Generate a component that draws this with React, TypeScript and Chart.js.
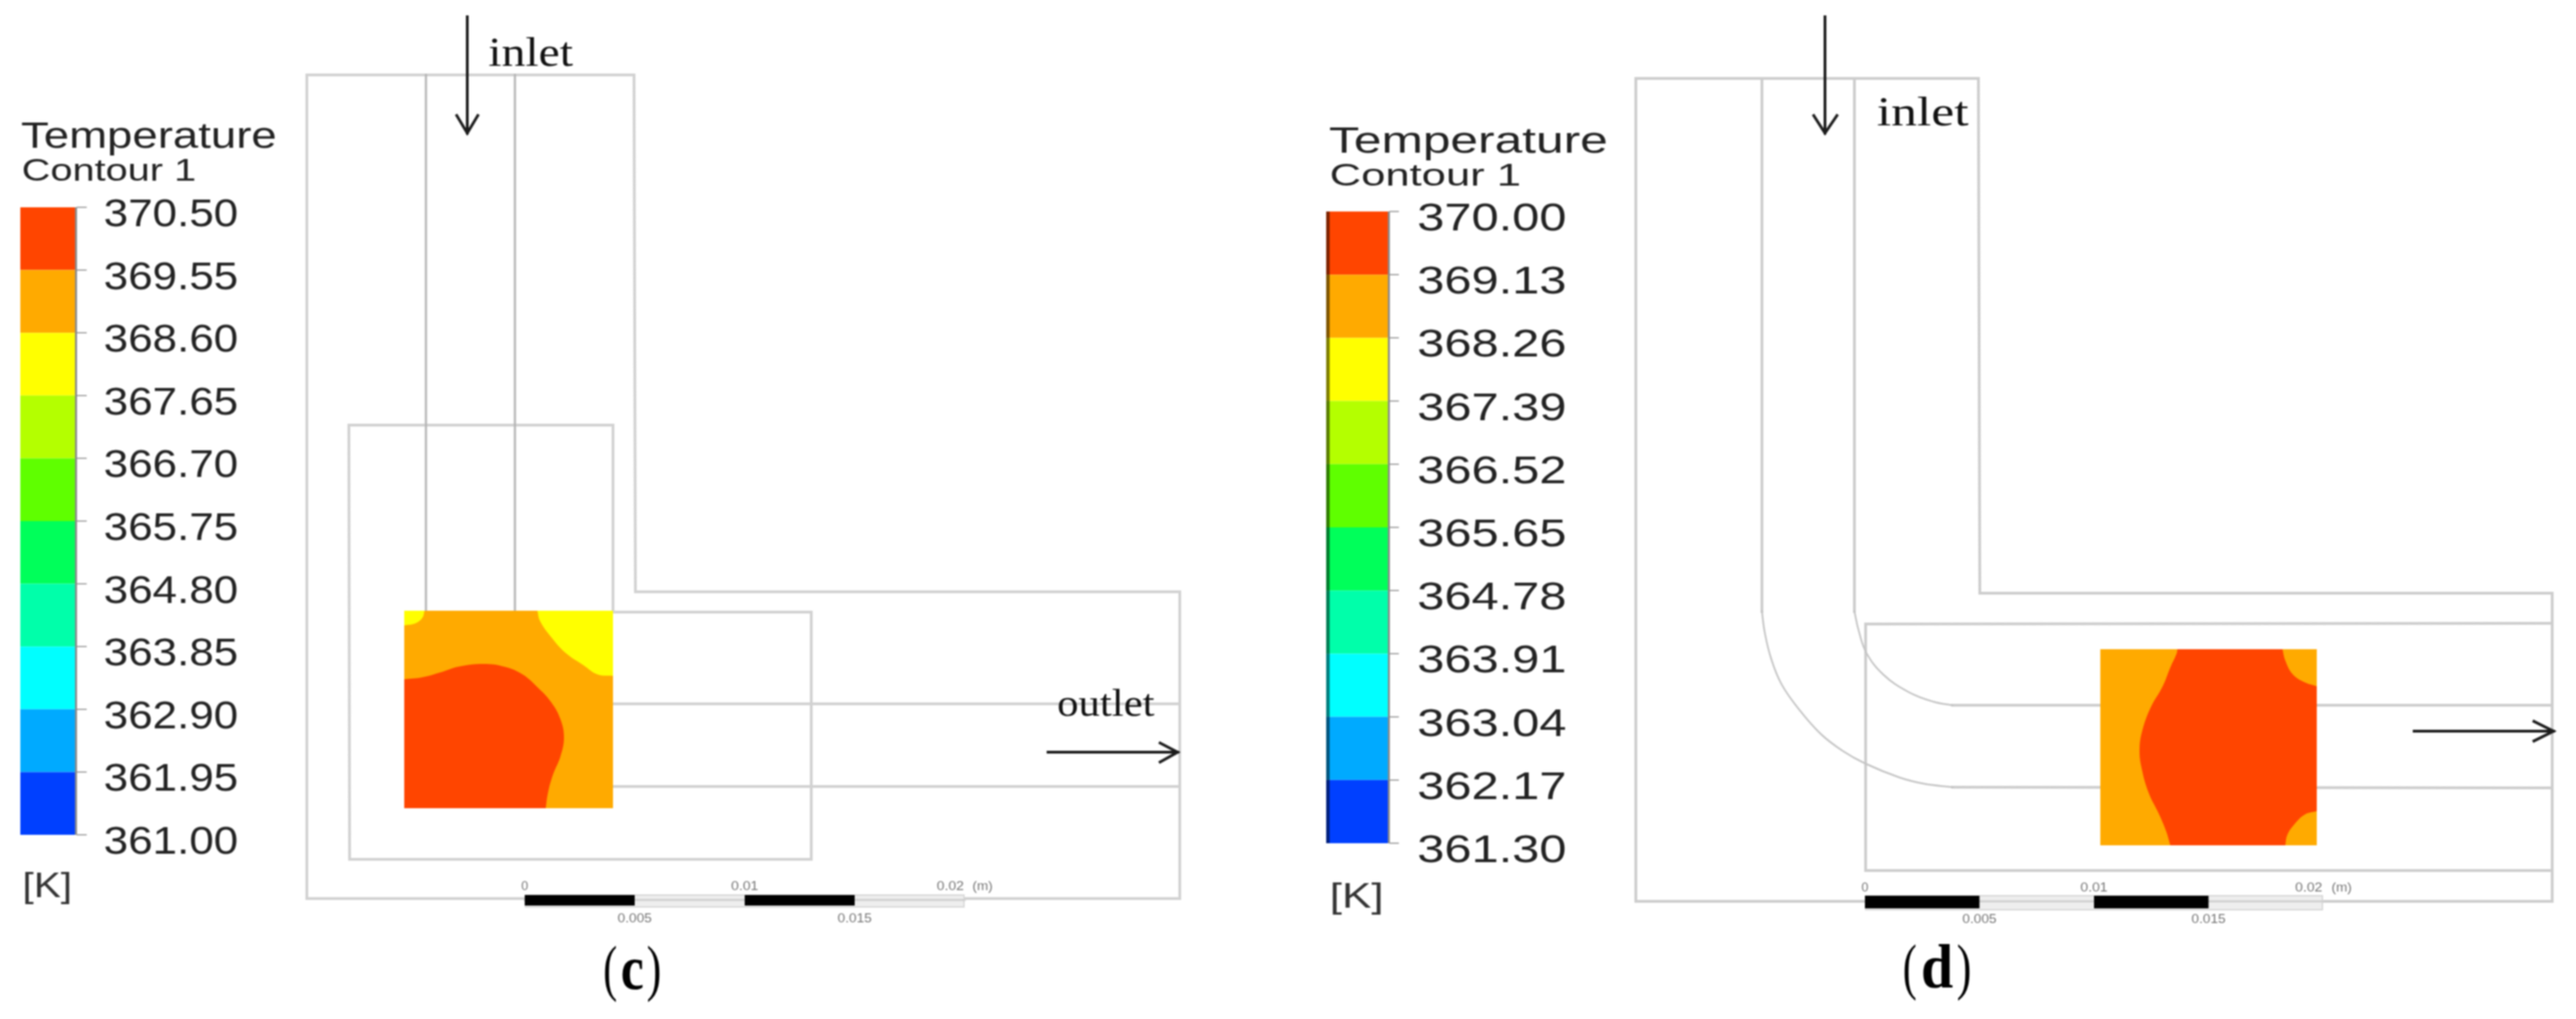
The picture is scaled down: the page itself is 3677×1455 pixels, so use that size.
import React, { useEffect, useRef } from "react";
import { Chart, registerables } from "chart.js";

Chart.register(...registerables);

type P = [number, number];

// ---------- colour-bar readings ----------
const levelsC = ["370.50", "369.55", "368.60", "367.65", "366.70", "365.75", "364.80", "363.85", "362.90", "361.95", "361.00"];
const levelsD = ["370.00", "369.13", "368.26", "367.39", "366.52", "365.65", "364.78", "363.91", "363.04", "362.17", "361.30"];
const bandColors = ["#ff4500", "#ffaa00", "#ffff00", "#b4ff00", "#5fff00", "#00ff5a", "#00ffaa", "#00ffff", "#00aaff", "#0040ff"];
const scaleTicks = [0, 0.005, 0.01, 0.015, 0.02];

// ---------- outlines (panel c) ----------
const wallsC: P[][] = [
  [[438, 107], [905, 107], [907, 845], [1684, 845], [1684, 1283], [438, 1283], [438, 107]],
  [[875, 872], [875, 607], [498, 607], [499, 1227], [1158, 1227], [1158, 874], [875, 874]],
  [[875, 1005], [1684, 1005]],
  [[875, 1123], [1684, 1123]],
];
const pipesC: P[][] = [
  [[608, 107], [608, 872]],
  [[735, 107], [735, 872]],
];
const boxC: P[] = [[577, 872], [875, 872], [875, 1154], [577, 1154], [577, 872]];
// A repeated point keeps a corner sharp when the outline is drawn smooth.
const yellowC1: P[] = [[767, 872], [767, 872], [771, 887], [787, 910], [807, 932], [833, 950], [853, 963], [875, 965], [875, 965], [875, 872], [875, 872], [767, 872], [767, 872]];
const yellowC2: P[] = [[577, 872], [577, 872], [606, 872], [606, 872], [603, 882], [593, 890], [577, 893], [577, 893], [577, 872], [577, 872]];
const redC: P[] = [[577, 970], [577, 970], [603, 967], [629, 960], [654, 952], [690, 948], [720, 952], [746, 963], [769, 983], [787, 1003], [800, 1027], [805, 1053], [800, 1080], [789, 1107], [782, 1133], [779, 1154], [779, 1154], [577, 1154], [577, 1154], [577, 970], [577, 970]];

// ---------- outlines (panel d) ----------
const wallsD: P[][] = [
  [[2335, 112], [2824, 112], [2826, 847], [3643, 847], [3643, 1287], [2335, 1287], [2335, 112]],
  [[3643, 890], [2663, 891], [2663, 1243], [3643, 1243]],
  [[2515, 112], [2515, 873]],
  [[2647, 112], [2647, 873]],
  [[2787, 1007], [3643, 1007]],
  [[2787, 1124], [3643, 1125]],
];
const arcOuterD: P[] = [[2515, 873], [2519, 903], [2528, 940], [2543, 977], [2568, 1013], [2599, 1048], [2630, 1072], [2662, 1090], [2711, 1110], [2746, 1119], [2787, 1124]];
const arcInnerD: P[] = [[2647, 873], [2653, 900], [2664, 932], [2688, 963], [2724, 988], [2760, 1002], [2787, 1007]];
const boxD: P[] = [[2998, 927], [3307, 927], [3307, 1207], [2998, 1207], [2998, 927]];
const redD: P[] = [[3108, 927], [3108, 927], [3258, 927], [3258, 927], [3262, 943], [3272, 962], [3287, 973], [3307, 980], [3307, 980], [3307, 1158], [3307, 1158], [3290, 1163], [3275, 1177], [3265, 1192], [3262, 1207], [3262, 1207], [3098, 1207], [3098, 1207], [3092, 1187], [3082, 1163], [3067, 1132], [3057, 1097], [3054, 1070], [3058, 1043], [3070, 1010], [3087, 980], [3098, 953], [3107, 933], [3108, 927], [3108, 927]];

// ---------- arrows: shaft, then barb-tip-barb ----------
const arrows: P[][] = [
  [[667, 24], [667, 190]],
  [[652, 165], [667, 190], [682, 165]],
  [[1496, 1074], [1681, 1074]],
  [[1656, 1061], [1681, 1074], [1656, 1088]],
  [[2605, 24], [2605, 190]],
  [[2589, 165], [2605, 190], [2622, 165]],
  [[3446, 1044], [3645, 1044]],
  [[3617, 1030], [3645, 1044], [3617, 1058]],
];

// ---------- text ----------
type T = { s: string; x0: number; x1: number; y: number; size: number; font: string; bold?: boolean; color: string };
const SANS = '"Liberation Sans", Arial, sans-serif';
const SERIF = '"Liberation Serif", "Times New Roman", serif';
const texts: T[] = [
  { s: "inlet", x0: 697, x1: 818, y: 94, size: 60, font: SERIF, color: "#111" },
  { s: "outlet", x0: 1509, x1: 1648, y: 1022, size: 55, font: SERIF, color: "#111" },
  { s: "inlet", x0: 2679, x1: 2810, y: 179, size: 60, font: SERIF, color: "#111" },
  { s: "Temperature", x0: 30, x1: 395, y: 211, size: 51, font: SANS, color: "#222" },
  { s: "Contour 1", x0: 31, x1: 280, y: 258, size: 45, font: SANS, color: "#222" },
  { s: "[K]", x0: 32, x1: 103, y: 1281, size: 50, font: SANS, color: "#333" },
  { s: "Temperature", x0: 1897, x1: 2295, y: 218, size: 51, font: SANS, color: "#222" },
  { s: "Contour 1", x0: 1898, x1: 2171, y: 265, size: 45, font: SANS, color: "#222" },
  { s: "[K]", x0: 1898, x1: 1975, y: 1296, size: 50, font: SANS, color: "#333" },
  { s: "(", x0: 861, x1: 881, y: 1412, size: 88, font: SERIF, color: "#000" },
  { s: "c", x0: 886, x1: 919, y: 1412, size: 88, font: SERIF, bold: true, color: "#000" },
  { s: ")", x0: 923, x1: 944, y: 1412, size: 88, font: SERIF, color: "#000" },
  { s: "(", x0: 2716, x1: 2736, y: 1410, size: 88, font: SERIF, color: "#000" },
  { s: "d", x0: 2742, x1: 2788, y: 1410, size: 88, font: SERIF, bold: true, color: "#000" },
  { s: ")", x0: 2793, x1: 2814, y: 1410, size: 88, font: SERIF, color: "#000" },
  { s: "(m)", x0: 1388, x1: 1417, y: 1271, size: 19, font: SANS, color: "#777" },
  { s: "(m)", x0: 3328, x1: 3357, y: 1273, size: 19, font: SANS, color: "#777" },
];

// ---------- panel furniture ----------
const legendC = { x0: 29, x1: 107, shade: 110, tick: 123, top: 296, bottom: 1192, lx0: 148, lx1: 340, dy: 27 };
const legendD = { x0: 1893, x1: 1981, shade: 1984, tick: 1996, top: 302, bottom: 1204, lx0: 2023, lx1: 2236, dy: 27 };
const scaleC = { x0: 749, x1: 1377, y0: 1278, y1: 1293, mid: 1285, up: 1271, down: 1317 };
const scaleD = { x0: 2662, x1: 3316, y0: 1279, y1: 1297, mid: 1287, up: 1273, down: 1318 };

const line = (pts: P[], color: string, width: number, tension = 0) => ({
  data: pts.map(([x, y]) => ({ x, y })),
  showLine: true,
  borderColor: color,
  borderWidth: width,
  borderCapStyle: "square",
  borderJoinStyle: "miter",
  tension,
  pointRadius: 0,
  fill: false,
});

const shape = (pts: P[], color: string, tension = 0) => ({
  data: pts.map(([x, y]) => ({ x, y })),
  showLine: true,
  borderColor: color,
  borderWidth: 0,
  backgroundColor: color,
  tension,
  pointRadius: 0,
  fill: "shape",
});

const rect = (x0: number, x1: number, y0: number, y1: number, color: string) =>
  shape([[x0, y0], [x1, y0], [x1, y1], [x0, y1], [x0, y0]], color);

function buildPanel(levels: string[], lg: typeof legendC, sc: typeof scaleC, out: any[], labels: T[]) {
  const vals = levels.map(Number);
  const hi = vals[0];
  const lo = vals[vals.length - 1];
  const yOf = (v: number) => lg.top + ((hi - v) / (hi - lo)) * (lg.bottom - lg.top);
  bandColors.forEach((c, i) => out.push(rect(lg.x0, lg.x1, yOf(vals[i]), yOf(vals[i + 1]), c)));
  out.push(rect(lg.x1, lg.shade, lg.top, lg.bottom, "#8c8c8c"));
  vals.forEach((v, i) => {
    out.push(line([[lg.shade, yOf(v)], [lg.tick, yOf(v)]], "#8a8a8a", 1.5));
    labels.push({ s: levels[i], x0: lg.lx0, x1: lg.lx1, y: yOf(v) + lg.dy, size: 56, font: SANS, color: "#222" });
  });
  const xOf = (m: number) => sc.x0 + (m / 0.02) * (sc.x1 - sc.x0);
  out.push(rect(sc.x0, sc.x1, sc.y0 - 1, sc.y1 + 3, "#d8d8d8"));
  out.push(rect(sc.x0 + 1, sc.x1 - 2, sc.y0 + 1, sc.y1 + 1, "#eeeeee"));
  out.push(line([[sc.x0, sc.mid], [sc.x1, sc.mid]], "#cfcfcf", 3));
  out.push(rect(xOf(scaleTicks[0]), xOf(scaleTicks[1]), sc.y0, sc.y1, "#000"));
  out.push(rect(xOf(scaleTicks[2]), xOf(scaleTicks[3]), sc.y0, sc.y1, "#000"));
  scaleTicks.forEach((m, i) => {
    const s = String(m);
    const w = s.length * 10 - (s.length > 1 ? 1 : 0);
    // the last label ends at the bar's end; the others sit centred on their tick
    const c = i === scaleTicks.length - 1 ? xOf(m) - w / 2 - 1 : xOf(m);
    labels.push({ s, x0: c - w / 2, x1: c + w / 2, y: i % 2 ? sc.down : sc.up, size: 19, font: SANS, color: "#777" });
  });
}

export default function App() {
  const ref = useRef<HTMLCanvasElement>(null);
  useEffect(() => {
    const GREY = "#cdcdcd";
    const labels: T[] = [...texts];
    const d: any[] = [];

    wallsC.forEach((w) => d.push(line(w, "#d2d2d2", 4)));
    pipesC.forEach((w) => d.push(line(w, "#b4b4b4", 3)));
    d.push(shape(boxC, "#ffaa00"), shape(yellowC1, "#ffff00", 0.4), shape(yellowC2, "#ffff00", 0.4), shape(redC, "#ff4500", 0.4));

    wallsD.forEach((w) => d.push(line(w, GREY, 4)));
    d.push(line(arcOuterD, "#c4c4c4", 2.5, 0.4), line(arcInnerD, "#c4c4c4", 2.5, 0.4));
    d.push(shape(boxD, "#ffaa00"), shape(redD, "#ff4500", 0.4));

    buildPanel(levelsC, legendC, scaleC, d, labels);
    buildPanel(levelsD, legendD, scaleD, d, labels);
    d.push(rect(legendD.x0, legendD.x0 + 5, legendD.top, legendD.bottom, "rgba(0,0,0,0.5)"));
    arrows.forEach((a) => d.push(line(a, "#1c1c1c", 4)));

    const textPlugin = {
      id: "panelText",
      afterDatasetsDraw(chart: any) {
        const ctx: CanvasRenderingContext2D = chart.ctx;
        const sx = chart.scales.x;
        const sy = chart.scales.y;
        labels.forEach((t) => {
          ctx.save();
          ctx.font = `${t.bold ? "bold " : ""}${t.size}px ${t.font}`;
          ctx.fillStyle = t.color;
          ctx.textBaseline = "alphabetic";
          ctx.textAlign = "left";
          const w = ctx.measureText(t.s).width;
          const px0 = sx.getPixelForValue(t.x0);
          const px1 = sx.getPixelForValue(t.x1);
          ctx.translate(px0, sy.getPixelForValue(t.y));
          ctx.scale((px1 - px0) / w, 1);
          ctx.fillText(t.s, 0, 0);
          ctx.restore();
        });
      },
    };

    const chart = new Chart(ref.current as HTMLCanvasElement, {
      type: "scatter",
      data: { datasets: d.reverse() },
      options: {
        animation: false,
        responsive: false,
        devicePixelRatio: 1,
        layout: { padding: 0 },
        events: [],
        plugins: { legend: { display: false }, tooltip: { enabled: false } },
        scales: {
          x: { type: "linear", min: 0, max: 3677, display: false },
          y: { type: "linear", min: 0, max: 1455, reverse: true, display: false },
        },
      },
      plugins: [textPlugin],
    } as any);
    return () => chart.destroy();
  }, []);
  return (
    <div style={{ position: "absolute", left: 0, top: 0, width: 3677, height: 1455, background: "#fff", overflow: "hidden" }}>
      <canvas ref={ref} width={3677} height={1455} style={{ display: "block", filter: "blur(0.8px)" }} />
    </div>
  );
}
